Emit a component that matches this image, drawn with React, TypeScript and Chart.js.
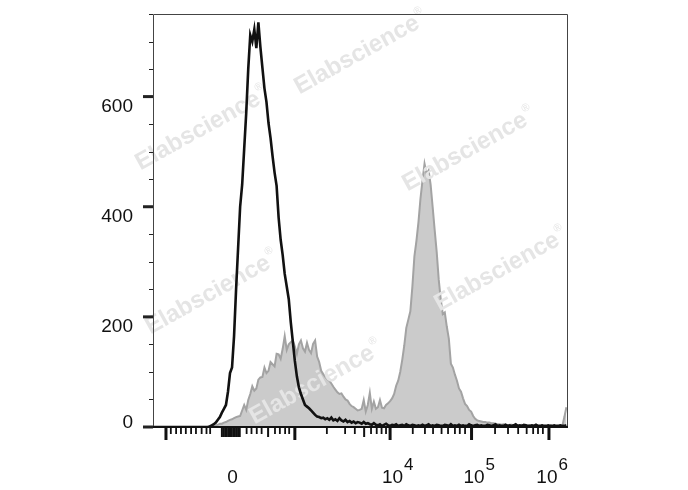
import React, { useEffect, useRef } from "react";
import { Chart, registerables } from "chart.js";

Chart.register(...registerables);

// Histogram channel width (display channels, 0..1024 across the axis)
const BIN_WIDTH = 5;
const X_MIN = 0;
const X_MAX = 1024;
const Y_MIN = 0;
const Y_MAX = 750;

// Unstained control (black line) counts per bin
const BLACK_COUNTS = [
  0, 0, 0, 0, 0, 0, 0, 0, 0, 0, 0, 0, 0, 0, 0, 0, 0, 0, 0, 0,
  0, 0, 0, 0, 0, 0, 0, 0, 1, 3, 5, 8, 13, 18, 26, 33, 40, 64, 98, 108,
  165, 250, 325, 400, 440, 505, 570, 650, 712, 700, 722, 688, 735, 690, 652, 615, 590, 552, 525, 492,
  462, 438, 380, 340, 312, 278, 255, 232, 190, 155, 120, 92, 72, 60, 50, 40, 37, 34, 30, 26,
  22, 19, 18, 16, 17, 14, 16, 13, 17, 12, 14, 11, 16, 12, 10, 13, 9, 11, 8, 10,
  7, 9, 8, 6, 9, 6, 7, 5, 4, 7, 4, 3, 5, 2, 4, 6, 3, 2, 4, 3,
  5, 2, 3, 4, 2, 5, 3, 2, 4, 3, 2, 3, 2, 4, 2, 3, 5, 2, 3, 2,
  4, 3, 2, 2, 4, 3, 2, 5, 2, 3, 2, 4, 2, 3, 2, 2, 5, 3, 2, 3,
  4, 2, 3, 2, 2, 4, 3, 2, 3, 5, 2, 3, 2, 2, 4, 2, 3, 2, 3, 5,
  2, 3, 2, 4, 3, 2, 2, 3, 2, 4, 2, 2, 3, 2, 2, 3, 2, 2, 3, 2,
  2, 3, 2, 2, 3,
];

// Stained sample (grey filled) counts per bin
const GRAY_COUNTS = [
  0, 0, 0, 0, 0, 0, 0, 0, 0, 0, 0, 0, 0, 0, 0, 0, 0, 0, 0, 0,
  0, 0, 0, 0, 0, 0, 0, 0, 1, 1, 2, 3, 4, 6, 6, 8, 9, 11, 13, 14,
  16, 18, 19, 20, 30, 40, 31, 49, 60, 74, 66, 70, 86, 90, 91, 108, 98, 102, 118, 114,
  110, 133, 132, 124, 142, 165, 140, 150, 154, 157, 146, 133, 150, 157, 143, 137, 153, 140, 134, 151,
  157, 128, 118, 102, 96, 91, 87, 84, 79, 73, 68, 63, 60, 61, 55, 50, 48, 42, 38, 36,
  33, 30, 31, 33, 49, 28, 40, 62, 33, 46, 33, 36, 49, 35, 34, 40, 43, 47, 52, 60,
  75, 84, 100, 122, 148, 180, 195, 210, 255, 310, 338, 372, 415, 448, 478, 460, 466, 440, 400, 358,
  318, 268, 232, 205, 208, 182, 160, 115, 108, 95, 84, 70, 64, 52, 42, 38, 31, 28, 20, 15,
  12, 11, 10, 9, 9, 8, 8, 7, 7, 6, 5, 5, 4, 5, 4, 3, 4, 4, 3, 4,
  3, 3, 4, 3, 3, 2, 3, 3, 2, 3, 2, 2, 3, 2, 2, 2, 3, 2, 2, 2,
  2, 3, 2, 18, 36,
];

// Y axis ticks
const Y_MAJOR_TICKS = [0, 200, 400, 600];
const Y_MINOR_TICKS = [50, 100, 150, 250, 300, 350, 450, 500, 550, 650, 700, 750];

// X axis ticks (display channel positions of the biexponential scale)
const X_MAJOR_TICKS = [32, 350, 585, 786, 977];
const X_MEDIUM_TICKS = [284, 521];
const X_MINOR_TICKS = [
  44, 57, 69, 81, 94, 106, 120, 132, 141,
  231, 243, 256, 268, 301, 313, 326, 336,
  429, 474, 498, 538, 552, 564, 575,
  641, 671, 691, 712, 728, 745, 757, 770,
  844, 876, 901, 922, 938, 950, 962,
];
const X_ZERO_TICKS = [170, 174, 178, 182, 186, 190, 194, 198, 202, 206, 210, 214];

// X axis labels
const X_LABEL_POS = [196, 591, 792, 972];
const X_LABEL_BASE = ["0", "10", "10", "10"];
const X_LABEL_EXP = ["", "4", "5", "6"];

const WATERMARK_TEXT = "Elabscience";

const FONT = '"Liberation Sans", Arial, Helvetica, sans-serif';

const axesPlugin = {
  id: "flowAxes",
  afterDatasetDraw(chart: any, args: any) {
    if (args.index !== 1) return;
    const ctx = chart.ctx;
    const spots = [
      [357, 55],
      [198, 131],
      [465, 152],
      [208, 295],
      [497, 272],
      [312, 385],
    ];
    ctx.save();
    for (const [cx, cy] of spots) {
      ctx.save();
      ctx.translate(cx, cy);
      ctx.rotate((-29 * Math.PI) / 180);
      ctx.fillStyle = "#e5e5e5";
      ctx.font = `bold 24px ${FONT}`;
      ctx.textAlign = "center";
      ctx.textBaseline = "middle";
      ctx.fillText(WATERMARK_TEXT, 0, 0);
      const w = ctx.measureText(WATERMARK_TEXT).width;
      ctx.font = `11px ${FONT}`;
      ctx.textAlign = "left";
      ctx.fillText("®", w / 2 + 1, -9);
      ctx.restore();
    }
    ctx.restore();
  },
  afterDraw(chart: any) {
    const ctx = chart.ctx;
    const { left, right, top, bottom } = chart.chartArea;
    const xs = chart.scales.x;
    const ys = chart.scales.y;
    ctx.save();

    // frame
    ctx.strokeStyle = "#444";
    ctx.lineWidth = 1;
    ctx.beginPath();
    ctx.moveTo(left + 0.5, bottom);
    ctx.lineTo(left + 0.5, top + 0.5);
    ctx.lineTo(right - 0.5, top + 0.5);
    ctx.lineTo(right - 0.5, bottom);
    ctx.stroke();
    ctx.strokeStyle = "#111";
    ctx.lineWidth = 2;
    ctx.beginPath();
    ctx.moveTo(left, bottom);
    ctx.lineTo(right, bottom);
    ctx.stroke();

    // y ticks
    ctx.strokeStyle = "#222";
    for (const v of Y_MINOR_TICKS) {
      const y = Math.round(ys.getPixelForValue(v)) + 0.5;
      ctx.lineWidth = 1;
      ctx.beginPath();
      ctx.moveTo(left - 4, y);
      ctx.lineTo(left, y);
      ctx.stroke();
    }
    for (const v of Y_MAJOR_TICKS) {
      const y = ys.getPixelForValue(v);
      ctx.lineWidth = 3;
      ctx.beginPath();
      ctx.moveTo(left - 10, y);
      ctx.lineTo(left, y);
      ctx.stroke();
    }
    // y labels
    ctx.fillStyle = "#111";
    ctx.font = `19px ${FONT}`;
    ctx.textAlign = "right";
    ctx.textBaseline = "alphabetic";
    for (const v of Y_MAJOR_TICKS) {
      const y = ys.getPixelForValue(v);
      ctx.fillText(String(v), left - 20, v === 0 ? y + 1 : y + 15);
    }

    // x ticks
    const drawXTick = (v: number, len: number, w: number) => {
      const x = xs.getPixelForValue(v);
      ctx.lineWidth = w;
      ctx.beginPath();
      ctx.moveTo(x, bottom);
      ctx.lineTo(x, bottom + len);
      ctx.stroke();
    };
    ctx.strokeStyle = "#111";
    for (const v of X_MINOR_TICKS) drawXTick(v, 7, 1.8);
    for (const v of X_ZERO_TICKS) drawXTick(v, 10, 2);
    for (const v of X_MEDIUM_TICKS) drawXTick(v, 10, 2);
    for (const v of X_MAJOR_TICKS) drawXTick(v, 13, 3);

    // x labels
    ctx.fillStyle = "#111";
    ctx.textBaseline = "alphabetic";
    X_LABEL_POS.forEach((pos, i) => {
      const x = xs.getPixelForValue(pos);
      const base = X_LABEL_BASE[i];
      const exp = X_LABEL_EXP[i];
      ctx.font = `19px ${FONT}`;
      const w = ctx.measureText(base).width;
      ctx.textAlign = "left";
      ctx.fillText(base, x - w / 2, 483);
      if (exp) {
        ctx.font = `17px ${FONT}`;
        ctx.fillText(exp, x + w / 2 + 1, 470);
      }
    });

    ctx.restore();
  },
};

export default function App() {
  const canvasRef = useRef<HTMLCanvasElement | null>(null);

  useEffect(() => {
    document.body.style.margin = "0";
    const canvas = canvasRef.current;
    if (!canvas) return;
    const blackData = BLACK_COUNTS.map((c, i) => ({ x: i * BIN_WIDTH, y: c }));
    const grayData = GRAY_COUNTS.map((c, i) => ({ x: i * BIN_WIDTH, y: c }));
    const chart = new Chart(canvas, {
      type: "line",
      data: {
        datasets: [
          {
            label: "Unstained",
            data: blackData,
            borderColor: "#111111",
            borderWidth: 2.6,
            fill: false,
            pointRadius: 0,
            tension: 0,
          },
          {
            label: "Stained",
            data: grayData,
            borderColor: "#a3a3a3",
            backgroundColor: "#cbcbcb",
            borderWidth: 2,
            fill: "origin",
            pointRadius: 0,
            tension: 0,
          },
        ],
      },
      options: {
        animation: false,
        responsive: false,
        devicePixelRatio: 1,
        layout: { padding: { left: 153, right: 120, top: 14, bottom: 63 } },
        scales: {
          x: { type: "linear", min: X_MIN, max: X_MAX, display: false },
          y: { type: "linear", min: Y_MIN, max: Y_MAX, display: false },
        },
        plugins: {
          legend: { display: false },
          tooltip: { enabled: false },
        },
      },
      plugins: [axesPlugin],
    });
    return () => chart.destroy();
  }, []);

  return (
    <div style={{ position: "absolute", left: 0, top: 0, width: 688, height: 490, background: "#fff" }}>
      <canvas ref={canvasRef} width={688} height={490} style={{ width: 688, height: 490 }} />
    </div>
  );
}
